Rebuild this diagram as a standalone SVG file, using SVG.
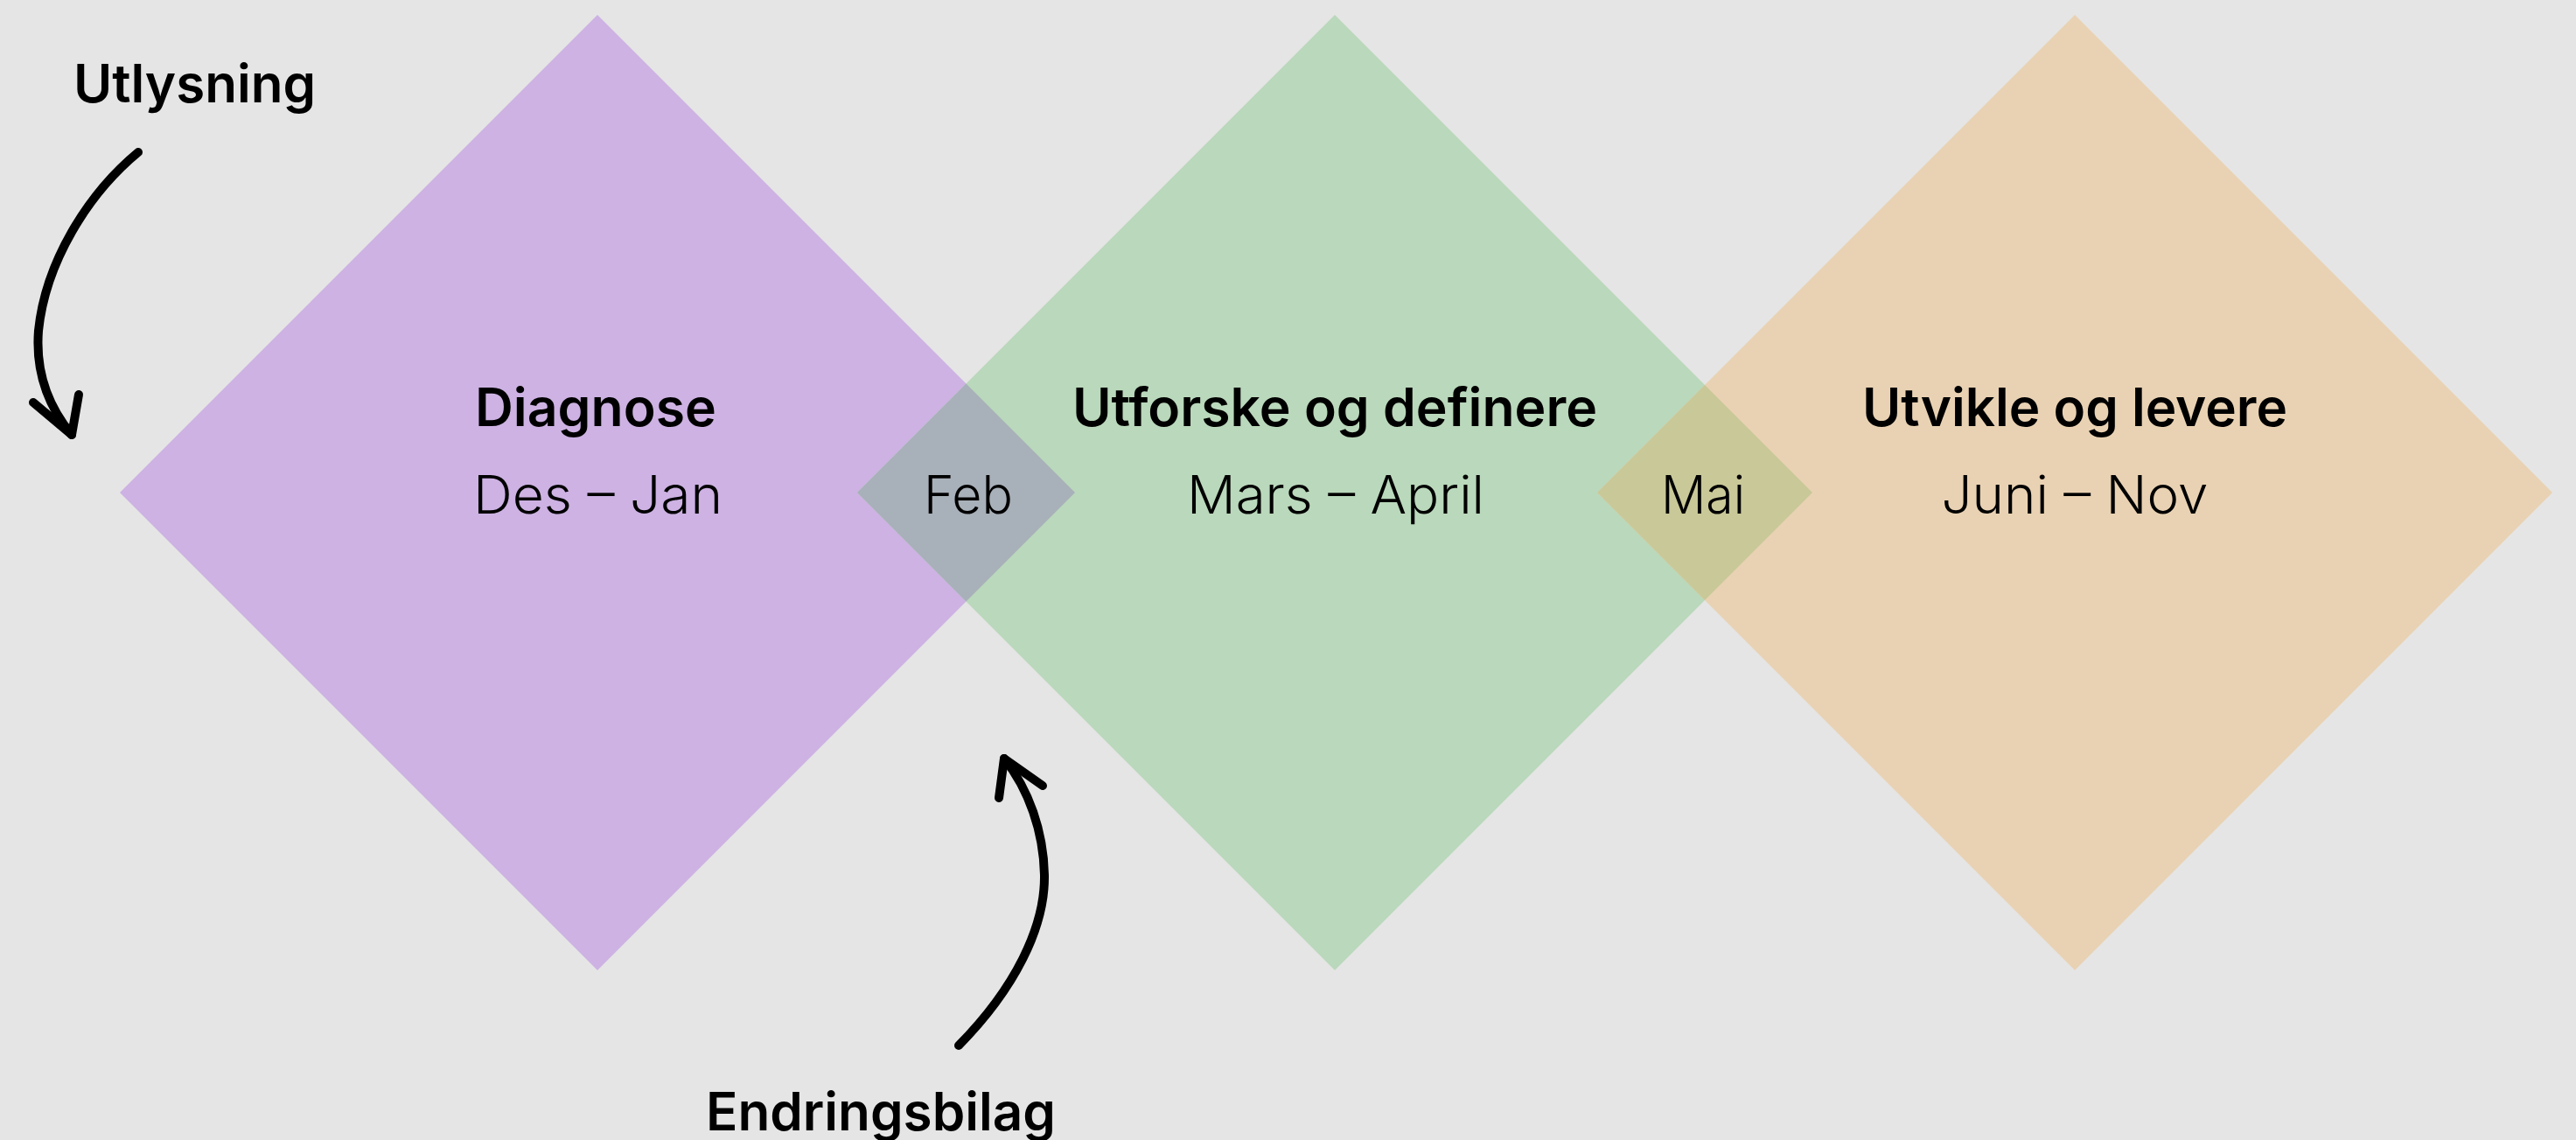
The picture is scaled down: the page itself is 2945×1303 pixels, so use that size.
<svg xmlns="http://www.w3.org/2000/svg" width="2945" height="1303" viewBox="0 0 2945 1303">
  <style>
    .t { font-family: Inter, "Open Sans", "Liberation Sans", sans-serif; fill: #000; font-size: 60px; }
    .b { font-weight: 600; }
    .r { font-weight: 300; }
    .arrow { fill: none; stroke: #000; stroke-width: 10; stroke-linecap: round; stroke-linejoin: round; }
  </style>
  <rect width="2945" height="1303" fill="#e5e5e5"/>
  <g id="diagnose">
    <polygon points="683,17 1229,563 683,1109 137,563" fill="#cdb2e3"/>
  </g>
  <g id="utforske">
    <polygon points="1526,17 2072,563 1526,1109 980,563" fill="#bad8bb"/>
  </g>
  <g id="utvikle">
    <polygon points="2372,17 2918,563 2372,1109 1826,563" fill="#e9d2b3"/>
  </g>
  <g id="feb">
    <polygon points="1104.5,438.5 1229,563 1104.5,687.5 980,563" fill="#a8b0b9"/>
    <text class="t r" x="1107" y="587" text-anchor="middle" textLength="102" lengthAdjust="spacingAndGlyphs">Feb</text>
  </g>
  <g id="mai">
    <polygon points="1949,440 2072,563 1949,686 1826,563" fill="#c9c898"/>
    <text class="t r" x="1947" y="587" text-anchor="middle" textLength="96" lengthAdjust="spacingAndGlyphs">Mai</text>
  </g>
  <g id="diagnose-text">
    <text class="t b" x="681" y="487" text-anchor="middle" textLength="276" lengthAdjust="spacingAndGlyphs">Diagnose</text>
    <text class="t r" x="683.5" y="587" text-anchor="middle" textLength="285" lengthAdjust="spacingAndGlyphs">Des – Jan</text>
  </g>
  <g id="utforske-text">
    <text class="t b" x="1526" y="487" text-anchor="middle" textLength="600" lengthAdjust="spacingAndGlyphs">Utforske og definere</text>
    <text class="t r" x="1527" y="587" text-anchor="middle" textLength="340" lengthAdjust="spacingAndGlyphs">Mars – April</text>
  </g>
  <g id="utvikle-text">
    <text class="t b" x="2372" y="487" text-anchor="middle" textLength="486" lengthAdjust="spacingAndGlyphs">Utvikle og levere</text>
    <text class="t r" x="2372" y="587" text-anchor="middle" textLength="305" lengthAdjust="spacingAndGlyphs">Juni – Nov</text>
  </g>
  <g id="utlysning">
    <text class="t b" x="84" y="117" textLength="277" lengthAdjust="spacingAndGlyphs">Utlysning</text>
  </g>
  <g id="endringsbilag">
    <text class="t b" x="807" y="1292" textLength="400" lengthAdjust="spacingAndGlyphs">Endringsbilag</text>
  </g>
  <g id="connectors">
    <path class="arrow" d="M158,174 C100,222 52,300 44,378 C40,430 58,468 82,497"/>
    <path class="arrow" d="M38,460 L82,497 L90,451"/>
    <path class="arrow" d="M1096,1195 C1160,1130 1195,1060 1194,1000 C1193,950 1176,902 1148,867"/>
    <path class="arrow" d="M1142,912 L1148,867 L1192,898"/>
  </g>
</svg>
